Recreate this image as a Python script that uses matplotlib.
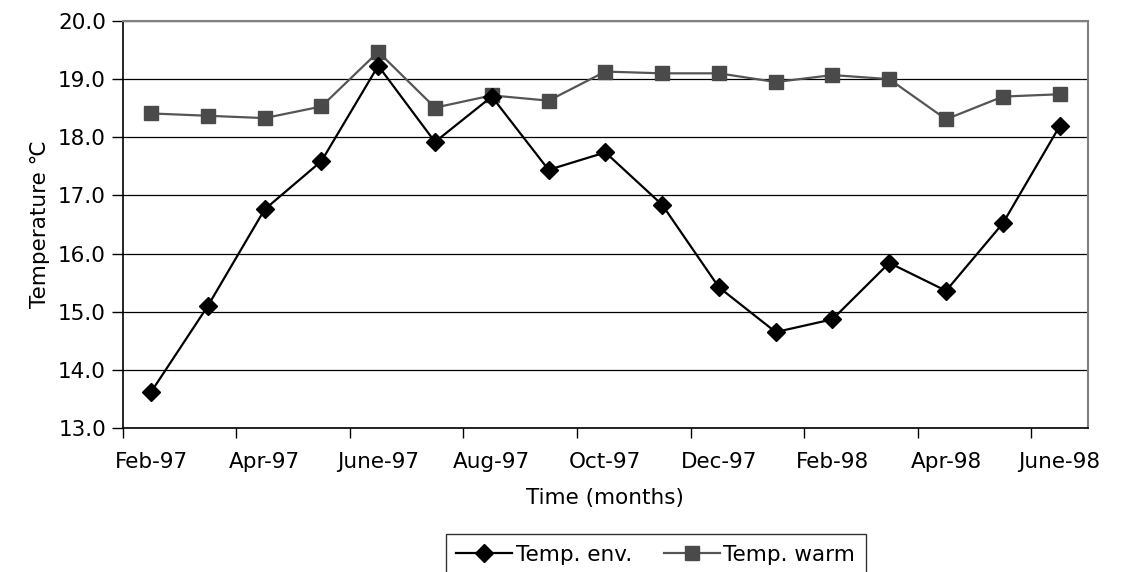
import numpy as np
import matplotlib
matplotlib.use("Agg")
import matplotlib.pyplot as plt

plt.rcParams["font.family"] = ["DejaVu Sans"]

# data (monthly, Feb-97 .. June-98)
months = ["Feb-97", "Mar-97", "Apr-97", "May-97", "June-97", "Jul-97", "Aug-97", "Sep-97",
          "Oct-97", "Nov-97", "Dec-97", "Jan-98", "Feb-98", "Mar-98", "Apr-98", "May-98", "June-98"]
temp_env = [13.62, 15.10, 16.76, 17.59, 19.23, 17.92, 18.70, 17.44, 17.74,
            16.84, 15.42, 14.65, 14.87, 15.84, 15.36, 16.52, 18.19]
temp_warm = [18.41, 18.37, 18.33, 18.53, 19.47, 18.51, 18.72, 18.63, 19.13,
             19.10, 19.10, 18.95, 19.07, 19.00, 18.31, 18.70, 18.74]

FS = 15.5

fig = plt.figure(figsize=(11.33, 5.72), dpi=100)
ax = fig.add_axes([0.1083, 0.2517, 0.8520, 0.7116])

x = np.arange(len(months))
ax.plot(x, temp_env, color="black", lw=1.6, marker="D", ms=9.5, mfc="black", mec="black",
        label="Temp. env.", zorder=3)
ax.plot(x, temp_warm, color="#555555", lw=1.6, marker="s", ms=10.5, mfc="#4a4a4a", mec="#4a4a4a",
        label="Temp. warm", zorder=2)

ax.set_xlim(-0.5, len(months) - 0.5)
ax.set_ylim(13, 20)
yt = np.arange(13, 20.5, 1.0)
ax.set_yticks(yt)
ax.set_yticklabels(["%.1f" % v for v in yt], fontsize=FS)
ax.yaxis.grid(True, color="black", lw=0.9)
ax.set_axisbelow(True)

# category axis: ticks between every second month, labels on even months
ax.set_xticks(np.arange(-0.5, len(months) - 0.5, 2))
ax.set_xticklabels([])
ax.set_xticks(x[::2], minor=True)
ax.set_xticklabels(months[::2], minor=True, fontsize=FS)
ax.tick_params(axis="x", which="minor", length=0, pad=17)
ax.tick_params(axis="x", which="major", length=7, width=1, direction="out")
ax.tick_params(axis="y", length=8, width=1, direction="out", pad=4)

for s in ["top", "right"]:
    ax.spines[s].set_color("#808080")
    ax.spines[s].set_linewidth(1.5)
for s in ["left", "bottom"]:
    ax.spines[s].set_color("black")
    ax.spines[s].set_linewidth(1.2)

ax.set_xlabel("Time (months)", fontsize=FS, labelpad=12)
ax.set_ylabel("Temperature \u2103", fontsize=FS, labelpad=6)

# legend box runs off the bottom edge, as in the original
leg = fig.legend(loc="upper left", bbox_to_anchor=(0.3934, 0.0664), ncol=2, fontsize=FS,
                 frameon=True, fancybox=False, edgecolor="black", handlelength=2.6,
                 handletextpad=0.15, columnspacing=1.5, borderpad=0.5, borderaxespad=0)
leg.get_frame().set_linewidth(1.0)

fig.savefig("out.png", dpi=100)
